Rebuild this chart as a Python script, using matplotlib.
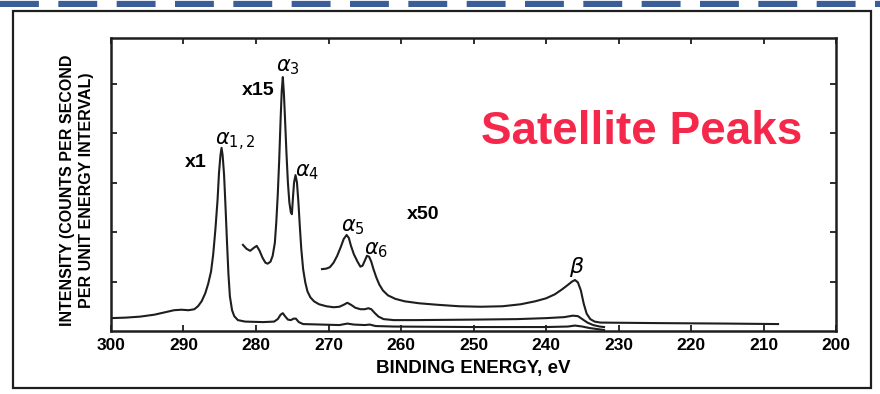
import matplotlib
matplotlib.use("Agg")
import matplotlib.pyplot as plt
from matplotlib import font_manager
from matplotlib.patches import Rectangle

# ------------------------------------------------------------------
# Datos (energía de enlace en eV, intensidad arb.)
# ------------------------------------------------------------------

# traza x1
be_x1 = [300.0, 298.0, 296.0, 294.0, 292.5, 291.3, 290.3, 289.3, 288.5, 288.0,
         287.5, 287.0, 286.6, 286.2, 285.9, 285.6, 285.3, 285.1, 284.9, 284.75,
         284.6, 284.4, 284.2, 284.0, 283.8, 283.6, 283.3, 283.0, 282.5, 281.5,
         279.0, 277.5, 277.0, 276.6, 276.3, 276.0, 275.6, 275.2, 274.8, 274.5,
         274.1, 273.5, 271.0, 268.5, 267.4, 266.5, 265.0, 264.3, 263.5, 261.0,
         250.0, 240.0, 237.0, 236.0, 235.0, 234.0, 232.5, 232.0]
int_x1 = [0.26, 0.27, 0.29, 0.33, 0.38, 0.42, 0.43, 0.42, 0.44, 0.50,
          0.60, 0.76, 0.95, 1.20, 1.55, 2.05, 2.65, 3.20, 3.55, 3.70,
          3.55, 3.15, 2.50, 1.80, 1.15, 0.70, 0.42, 0.30, 0.22, 0.19,
          0.18, 0.19, 0.24, 0.33, 0.36, 0.30, 0.23, 0.22, 0.25, 0.25,
          0.18, 0.14, 0.13, 0.12, 0.15, 0.13, 0.12, 0.13, 0.10, 0.09,
          0.08, 0.08, 0.09, 0.11, 0.09, 0.06, 0.03, 0.02]

# traza x15
be_x15 = [281.8, 281.3, 280.8, 280.3, 279.9, 279.5, 279.1, 278.7, 278.4, 278.0,
          277.7, 277.4, 277.2, 277.0, 276.8, 276.6, 276.45, 276.3, 276.15, 276.0,
          275.8, 275.6, 275.4, 275.2, 275.05, 274.9, 274.75, 274.55, 274.35, 274.15,
          273.95, 273.75, 273.5, 273.2, 272.9, 272.5, 272.0, 271.3, 270.3, 269.3,
          268.5, 267.9, 267.4, 266.9, 266.3, 265.6, 265.0, 264.5, 264.1, 263.6,
          263.1, 262.4, 261.0, 258.0, 250.0, 244.0, 240.0, 237.5, 236.3, 235.6,
          235.0, 234.3, 233.5, 232.6, 232.0]
int_x15 = [1.74, 1.66, 1.62, 1.68, 1.72, 1.62, 1.48, 1.38, 1.36, 1.40,
           1.52, 1.78, 2.20, 2.75, 3.45, 4.30, 4.85, 5.13, 4.80, 4.30,
           3.60, 3.00, 2.60, 2.40, 2.36, 2.70, 3.00, 3.15, 3.00, 2.60,
           2.10, 1.65, 1.25, 0.98, 0.80, 0.68, 0.60, 0.54, 0.50, 0.48,
           0.49, 0.53, 0.57, 0.53, 0.47, 0.44, 0.44, 0.46, 0.44, 0.36,
           0.29, 0.24, 0.22, 0.22, 0.23, 0.24, 0.26, 0.28, 0.31, 0.30,
           0.24, 0.17, 0.12, 0.09, 0.08]

# traza x50
be_x50 = [270.9, 270.3, 269.8, 269.3, 268.8, 268.3, 267.9, 267.5, 267.2, 266.9,
          266.5, 266.0, 265.6, 265.3, 265.0, 264.7, 264.4, 264.1, 263.8, 263.4,
          263.0, 262.5, 261.8, 260.8, 259.5, 257.5, 255.0, 252.0, 249.0, 246.0,
          243.5, 241.5, 240.0, 238.8, 237.8, 237.0, 236.4, 236.0, 235.6, 235.2,
          234.8, 234.4, 233.9, 233.3, 232.5, 225.0, 215.0, 208.0]
int_x50 = [1.25, 1.26, 1.29, 1.38, 1.52, 1.70, 1.86, 1.94, 1.88, 1.72,
           1.55, 1.40, 1.30, 1.32, 1.42, 1.52, 1.50, 1.40, 1.25, 1.08,
           0.94, 0.82, 0.72, 0.65, 0.60, 0.56, 0.53, 0.50, 0.49, 0.50,
           0.54, 0.60, 0.66, 0.74, 0.84, 0.93, 1.00, 1.03, 0.98, 0.82,
           0.55, 0.35, 0.24, 0.19, 0.17, 0.16, 0.15, 0.14]

x_ticks = [300, 290, 280, 270, 260, 250, 240, 230, 220, 210, 200]
y_ticks = [1, 2, 3, 4, 5]

# ------------------------------------------------------------------
# Fuentes
# ------------------------------------------------------------------
names = {f.name for f in font_manager.fontManager.ttflist}
narrow = "Liberation Sans Narrow" if "Liberation Sans Narrow" in names else "Liberation Sans"
plt.rcParams["font.family"] = ["Liberation Sans", "DejaVu Sans"]
plt.rcParams["mathtext.fontset"] = "dejavusans"
plt.rcParams["lines.scale_dashes"] = False

ink = "#1e1e1e"

fig = plt.figure(figsize=(8.8, 3.94), dpi=100)
ax = fig.add_axes([0.1261, 0.1599, 0.824, 0.7437])

ax.plot(be_x1, int_x1, color=ink, lw=1.5, solid_joinstyle="round")
ax.plot(be_x15, int_x15, color=ink, lw=1.5, solid_joinstyle="round")
ax.plot(be_x50, int_x50, color=ink, lw=1.5, solid_joinstyle="round")

ax.set_xlim(300, 200)
ax.set_ylim(0, 5.92)
ax.set_xticks(x_ticks)
ax.set_xticklabels([str(t) for t in x_ticks], fontsize=12.5, fontweight="bold")
ax.set_yticks(y_ticks)
ax.set_yticklabels([])
ax.tick_params(axis="both", direction="in", length=4, width=1.3, color=ink,
               top=True, right=True, pad=5)
for s in ax.spines.values():
    s.set_linewidth(1.8)
    s.set_color(ink)

ax.set_xlabel("BINDING ENERGY, eV", fontsize=13.5, fontweight="bold", labelpad=5)

# etiquetas de picos
lbl = dict(fontsize=14, fontweight="heavy", ha="center", va="center")
greek = dict(fontsize=15, ha="center", va="center")
ax.text(288.3, 3.41, "x1", **lbl)
ax.text(285.7, 3.82, r"$\alpha_{1,2}$", fontsize=15, ha="left", va="center")
ax.text(275.6, 5.33, r"$\alpha_3$", **greek)
ax.text(279.7, 4.85, "x15", **lbl)
ax.text(273.0, 3.21, r"$\alpha_4$", **greek)
ax.text(266.7, 2.10, r"$\alpha_5$", **greek)
ax.text(257.0, 2.36, "x50", **lbl)
ax.text(263.5, 1.64, r"$\alpha_6$", **greek)
ax.text(235.7, 1.29, r"$\beta$", fontsize=16, ha="center", va="center")

ax.text(0.732, 0.68, "Satellite Peaks", transform=ax.transAxes, fontsize=33,
        fontweight="bold", color="#f5284b", ha="center", va="center")

# título del eje y (dos líneas, rotado)
fig.text(77 / 880, 1 - 190 / 394,
         "INTENSITY (COUNTS PER SECOND\nPER UNIT ENERGY INTERVAL)",
         rotation=90, ha="center", va="center", multialignment="center",
         fontsize=11.5, fontweight="bold", family=narrow, linespacing=1.35)

# marco exterior
fig.add_artist(Rectangle((13 / 880, 1 - 388 / 394), 858 / 880, 377 / 394,
                         transform=fig.transFigure, fill=False,
                         edgecolor=ink, lw=1.6))

# línea discontinua azul superior (franja propia)
band = fig.add_axes([0, 1 - 7 / 394, 1, 7 / 394])
band.set_axis_off()
band.set_xlim(0, 1)
band.set_ylim(0, 1)
band.axhline(0.5, color="#3b5e98", lw=4.5, dashes=(28, 14), dash_capstyle="butt")

fig.savefig("out.png", dpi=100, facecolor="white")
